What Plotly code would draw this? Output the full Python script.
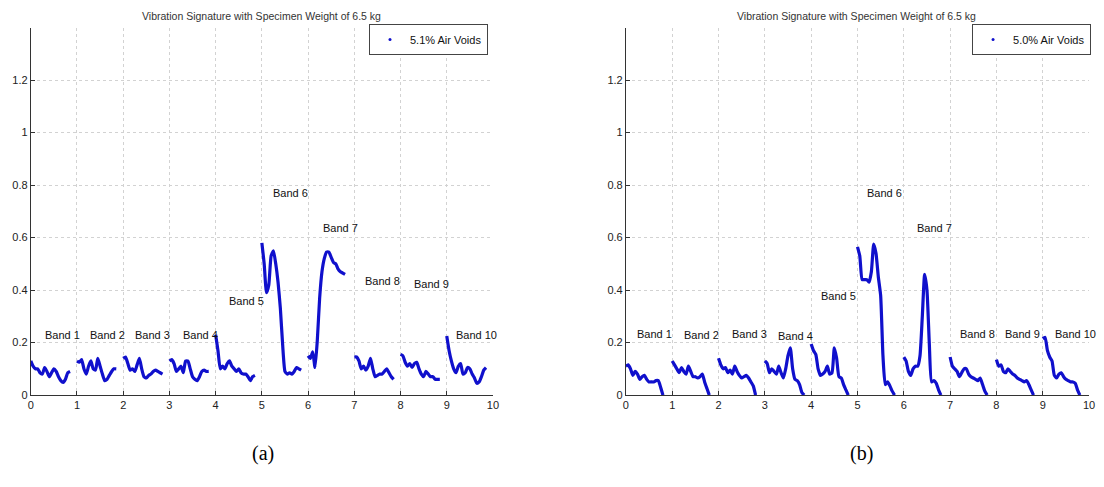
import plotly.graph_objects as go

W, H = 1104, 487

# x offsets within each band (band n spans n .. n+0.85)
X_OFFSETS = [0.00, 0.05, 0.10, 0.15, 0.20, 0.25, 0.30, 0.35, 0.40,
             0.45, 0.50, 0.55, 0.60, 0.65, 0.70, 0.75, 0.80, 0.85]

# ---- panel (a): 5.1% air voids ----
a_band1 = [0.13, 0.11, 0.10, 0.10, 0.085, 0.08, 0.105, 0.09, 0.07, 0.085, 0.10, 0.09, 0.07, 0.055, 0.048, 0.06, 0.085, 0.09]
a_band2 = [0.13, 0.125, 0.135, 0.10, 0.08, 0.11, 0.13, 0.10, 0.095, 0.14, 0.11, 0.08, 0.055, 0.06, 0.075, 0.09, 0.10, 0.10]
a_band3 = [0.14, 0.145, 0.12, 0.095, 0.10, 0.09, 0.115, 0.14, 0.10, 0.07, 0.065, 0.075, 0.08, 0.09, 0.095, 0.09, 0.085, 0.08]
a_band4 = [0.13, 0.135, 0.12, 0.09, 0.10, 0.11, 0.085, 0.13, 0.13, 0.10, 0.07, 0.06, 0.055, 0.07, 0.09, 0.095, 0.09, 0.09]
a_band5 = [0.23, 0.17, 0.10, 0.11, 0.10, 0.12, 0.13, 0.11, 0.10, 0.09, 0.10, 0.085, 0.08, 0.08, 0.07, 0.055, 0.07, 0.075]
a_band6 = [0.58, 0.50, 0.39, 0.42, 0.53, 0.55, 0.50, 0.43, 0.33, 0.19, 0.09, 0.08, 0.085, 0.08, 0.09, 0.105, 0.10, 0.095]
a_band7 = [0.15, 0.14, 0.165, 0.105, 0.21, 0.37, 0.47, 0.52, 0.545, 0.545, 0.525, 0.505, 0.50, 0.48, 0.47, 0.465, 0.46]
a_band8 = [0.145, 0.145, 0.13, 0.10, 0.11, 0.095, 0.11, 0.14, 0.10, 0.07, 0.075, 0.08, 0.08, 0.09, 0.10, 0.085, 0.07, 0.06]
a_band9 = [0.155, 0.15, 0.125, 0.11, 0.12, 0.105, 0.12, 0.125, 0.10, 0.08, 0.07, 0.09, 0.08, 0.07, 0.07, 0.06, 0.06, 0.06]
a_band10 = [0.225, 0.17, 0.13, 0.10, 0.085, 0.11, 0.12, 0.08, 0.085, 0.105, 0.10, 0.08, 0.065, 0.045, 0.05, 0.07, 0.095, 0.105]

# ---- panel (b): 5.0% air voids ----
b_band1 = [0.11, 0.115, 0.10, 0.075, 0.09, 0.08, 0.06, 0.07, 0.075, 0.06, 0.05, 0.05, 0.05, 0.055, 0.055, 0.03, 0.0]
b_band2 = [0.13, 0.115, 0.10, 0.085, 0.105, 0.09, 0.08, 0.11, 0.09, 0.07, 0.07, 0.065, 0.07, 0.08, 0.05, 0.025, 0.0]
b_band3 = [0.14, 0.115, 0.10, 0.105, 0.085, 0.095, 0.08, 0.11, 0.09, 0.075, 0.065, 0.07, 0.075, 0.065, 0.05, 0.035, 0.0]
b_band4 = [0.13, 0.12, 0.085, 0.10, 0.09, 0.08, 0.11, 0.085, 0.065, 0.10, 0.15, 0.18, 0.10, 0.06, 0.055, 0.04, 0.01, 0.0]
b_band5 = [0.195, 0.17, 0.155, 0.10, 0.075, 0.08, 0.09, 0.11, 0.08, 0.085, 0.18, 0.14, 0.07, 0.065, 0.04, 0.02, 0.0]
b_band6 = [0.565, 0.53, 0.44, 0.44, 0.44, 0.43, 0.47, 0.575, 0.54, 0.45, 0.38, 0.15, 0.04, 0.05, 0.035, 0.015, 0.0]
b_band7 = [0.145, 0.13, 0.09, 0.075, 0.10, 0.11, 0.11, 0.15, 0.30, 0.46, 0.40, 0.20, 0.05, 0.055, 0.045, 0.02, 0.0]
b_band8 = [0.145, 0.11, 0.10, 0.09, 0.07, 0.085, 0.10, 0.10, 0.08, 0.07, 0.065, 0.06, 0.055, 0.065, 0.04, 0.015, 0.0]
b_band9 = [0.135, 0.11, 0.115, 0.09, 0.085, 0.10, 0.09, 0.08, 0.075, 0.065, 0.06, 0.055, 0.05, 0.055, 0.04, 0.02, 0.0]
b_band10 = [0.215, 0.22, 0.17, 0.145, 0.13, 0.075, 0.065, 0.08, 0.085, 0.07, 0.06, 0.055, 0.05, 0.05, 0.045, 0.02, 0.0]

BANDS_A = [a_band1, a_band2, a_band3, a_band4, a_band5, a_band6, a_band7, a_band8, a_band9, a_band10]
BANDS_B = [b_band1, b_band2, b_band3, b_band4, b_band5, b_band6, b_band7, b_band8, b_band9, b_band10]

BAND_NAMES = ["Band 1", "Band 2", "Band 3", "Band 4", "Band 5",
              "Band 6", "Band 7", "Band 8", "Band 9", "Band 10"]
LABEL_X_A = [0.69, 1.67, 2.64, 3.67, 4.66, 5.62, 6.70, 7.62, 8.67, 9.64]
LABEL_Y_A = [0.23, 0.23, 0.23, 0.23, 0.36, 0.77, 0.636, 0.433, 0.425, 0.23]
LABEL_X_B = [0.62, 1.63, 2.66, 3.66, 4.58, 5.59, 6.66, 7.60, 8.57, 9.70]
LABEL_Y_B = [0.233, 0.23, 0.233, 0.226, 0.377, 0.77, 0.636, 0.233, 0.233, 0.233]

X_TICKS = [0, 1, 2, 3, 4, 5, 6, 7, 8, 9, 10]
Y_TICKS = [0, 0.2, 0.4, 0.6, 0.8, 1.0, 1.2]
Y_TICK_TEXT = ["0", "0.2", "0.4", "0.6", "0.8", "1", "1.2"]

TITLE = "Vibration Signature with Specimen Weight of 6.5 kg"
LEGEND_A = "5.1% Air Voids"
LEGEND_B = "5.0% Air Voids"

LINE_COLOR = "#1010cc"

fig = go.Figure()

panels = [
    (BANDS_A, "x", "y", "legend", LEGEND_A),
    (BANDS_B, "x2", "y2", "legend2", LEGEND_B),
]
for bands, xa, ya, leg, legname in panels:
    for i, vals in enumerate(bands):
        xs = [i + o for o in X_OFFSETS[:len(vals)]]
        fig.add_trace(go.Scatter(
            x=xs, y=vals, xaxis=xa, yaxis=ya, mode="lines",
            line=dict(color=LINE_COLOR, width=3.2, shape="spline", smoothing=0.5),
            showlegend=False, hoverinfo="skip"))
    fig.add_trace(go.Scatter(
        x=[None], y=[None], xaxis=xa, yaxis=ya, mode="markers",
        marker=dict(color=LINE_COLOR, size=3), name=legname,
        legend=leg, showlegend=True))

def px_x(p):
    return p / W

def px_y(p):
    return 1 - p / H

dom_a = [px_x(28), px_x(494)]
dom_b = [px_x(628), px_x(1095)]
dom_y = [px_y(400), px_y(28)]

axis_font = dict(family="Arial, Liberation Sans, sans-serif", size=11, color="#222")
common_x = dict(range=[0, 10], tickvals=X_TICKS, showgrid=True, gridcolor="#d2d2d2",
                griddash="dot", gridwidth=1, showline=True, linecolor="#333", linewidth=1,
                ticks="inside", ticklen=4, tickcolor="#333", zeroline=False,
                tickfont=axis_font, fixedrange=True)
common_y = dict(range=[0, 1.4], tickvals=Y_TICKS, ticktext=Y_TICK_TEXT, showgrid=True,
                gridcolor="#d2d2d2", griddash="dot", gridwidth=1, showline=True,
                linecolor="#333", linewidth=1, ticks="inside", ticklen=4, tickcolor="#333",
                zeroline=False, tickfont=axis_font, fixedrange=True)

legend_font = dict(family="Arial, Liberation Sans, sans-serif", size=11, color="#111")
fig.update_layout(
    width=W, height=H,
    margin=dict(l=0, r=0, t=0, b=0),
    paper_bgcolor="white", plot_bgcolor="white",
    xaxis=dict(domain=dom_a, anchor="y", **common_x),
    yaxis=dict(domain=dom_y, anchor="x", **common_y),
    xaxis2=dict(domain=dom_b, anchor="y2", **common_x),
    yaxis2=dict(domain=dom_y, anchor="x2", **common_y),
    legend=dict(x=px_x(429), y=px_y(40), xanchor="center", yanchor="middle",
                bgcolor="white", bordercolor="#444", borderwidth=1,
                font=legend_font, itemwidth=30, tracegroupgap=0),
    legend2=dict(x=px_x(1037), y=px_y(40), xanchor="center", yanchor="middle",
                 bgcolor="white", bordercolor="#444", borderwidth=1,
                 font=legend_font, itemwidth=30, tracegroupgap=0),
)

annotations = []
label_font = dict(family="Arial, Liberation Sans, sans-serif", size=11, color="#111")
for xr, yr, lx, ly in [("x", "y", LABEL_X_A, LABEL_Y_A), ("x2", "y2", LABEL_X_B, LABEL_Y_B)]:
    for name, x, y in zip(BAND_NAMES, lx, ly):
        annotations.append(dict(x=x, y=y, xref=xr, yref=yr, text=name, showarrow=False,
                                font=label_font, xanchor="center", yanchor="middle"))

title_font = dict(family="Arial, Liberation Sans, sans-serif", size=10.5, color="#333")
for cx in (261, 861):
    annotations.append(dict(x=px_x(cx), y=px_y(16), xref="paper", yref="paper", text=TITLE,
                            showarrow=False, font=title_font, xanchor="center", yanchor="middle"))

cap_font = dict(family="Liberation Serif, Times New Roman, serif", size=20, color="#000")
for cx, txt in ((262, "(a)"), (866, "(b)")):
    annotations.append(dict(x=px_x(cx), y=px_y(459), xref="paper", yref="paper", text=txt,
                            showarrow=False, font=cap_font, xanchor="center", yanchor="middle"))

fig.update_layout(annotations=annotations)

fig.write_html("out.html")
